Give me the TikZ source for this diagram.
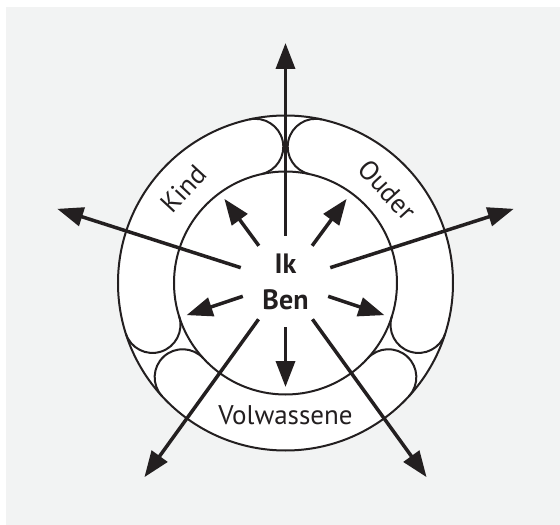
\documentclass[tikz,border=0pt]{standalone}
\usepackage{fontspec}
\setmainfont{PT Sans}
\usetikzlibrary{arrows.meta}
\definecolor{inkt}{RGB}{35,31,32}
\definecolor{achtergrond}{RGB}{242,243,243}
\tikzset{
	pijl/.style={draw=inkt, line width=3.5pt, -{Triangle[length=26pt,width=19pt]}},
	rand/.style={draw=inkt, line width=2pt},
	etiket/.style={font=\fontsize{27pt}{32pt}\selectfont, text=inkt, inner sep=0pt},
}
\begin{document}
\begin{tikzpicture}[x=1pt,y=1pt]
	\useasboundingbox (-285.5,-242) rectangle (274.5,283);
	\fill[achtergrond] (-279.5,-242) rectangle (274.5,276);
	% ring with its three segments
	\filldraw[rand, fill=white] (0,0) circle (167.5);
	\draw[rand] (0,0) circle (111.5);
	\draw[rand] (102.5:167.5) arc[start angle=102.5, end angle=-77.5, radius=28];
	\draw[rand] (197.5:167.5) arc[start angle=197.5, end angle=377.5, radius=28];
	\draw[rand] (77.5:167.5) arc[start angle=77.5, end angle=257.5, radius=28];
	\draw[rand] (342.5:167.5) arc[start angle=342.5, end angle=162.5, radius=28];
	\draw[rand] (317.5:167.5) arc[start angle=317.5, end angle=497.5, radius=28];
	\draw[rand] (222.5:167.5) arc[start angle=222.5, end angle=42.5, radius=28];
	\node[etiket, rotate=47] (kind) at (137.2:138.5) {Kind};
	\node[etiket, rotate=-47.5] (ouder) at (42.4:138) {Ouder};
	\node[etiket] (volw) at (0,-132) {Volwassene};
	% centre and arrows
	\node[font=\fontsize{28pt}{35.7pt}\selectfont\bfseries, text=inkt, align=center, inner sep=0pt] (ik) at (0,1) {Ik\\Ben};
	\coordinate (boven) at (90:240);
	\coordinate (links) at (162:240);
	\coordinate (rechts) at (18:240);
	\coordinate (linksonder) at (234:240);
	\coordinate (rechtsonder) at (306:240);
	\coordinate (kleinlinks) at (126:104);
	\coordinate (kleinrechts) at (54:104);
	\coordinate (zijlinks) at (198:104);
	\coordinate (zijrechts) at (342:104);
	\coordinate (onder) at (270:104);
	\draw[pijl, shorten <=46pt] (ik.center) -- (boven);
	\draw[pijl, shorten <=47pt] (ik.center) -- (links);
	\draw[pijl, shorten <=47pt] (ik.center) -- (rechts);
	\draw[pijl, shorten <=46pt] (ik.center) -- (linksonder);
	\draw[pijl, shorten <=46pt] (ik.center) -- (rechtsonder);
	\draw[pijl, shorten <=45pt] (ik.center) -- (kleinlinks);
	\draw[pijl, shorten <=45pt] (ik.center) -- (kleinrechts);
	\draw[pijl, shorten <=45pt] (ik.center) -- (zijlinks);
	\draw[pijl, shorten <=45pt] (ik.center) -- (zijrechts);
	\draw[pijl, shorten <=45pt] (ik.center) -- (onder);
\end{tikzpicture}
\end{document}
